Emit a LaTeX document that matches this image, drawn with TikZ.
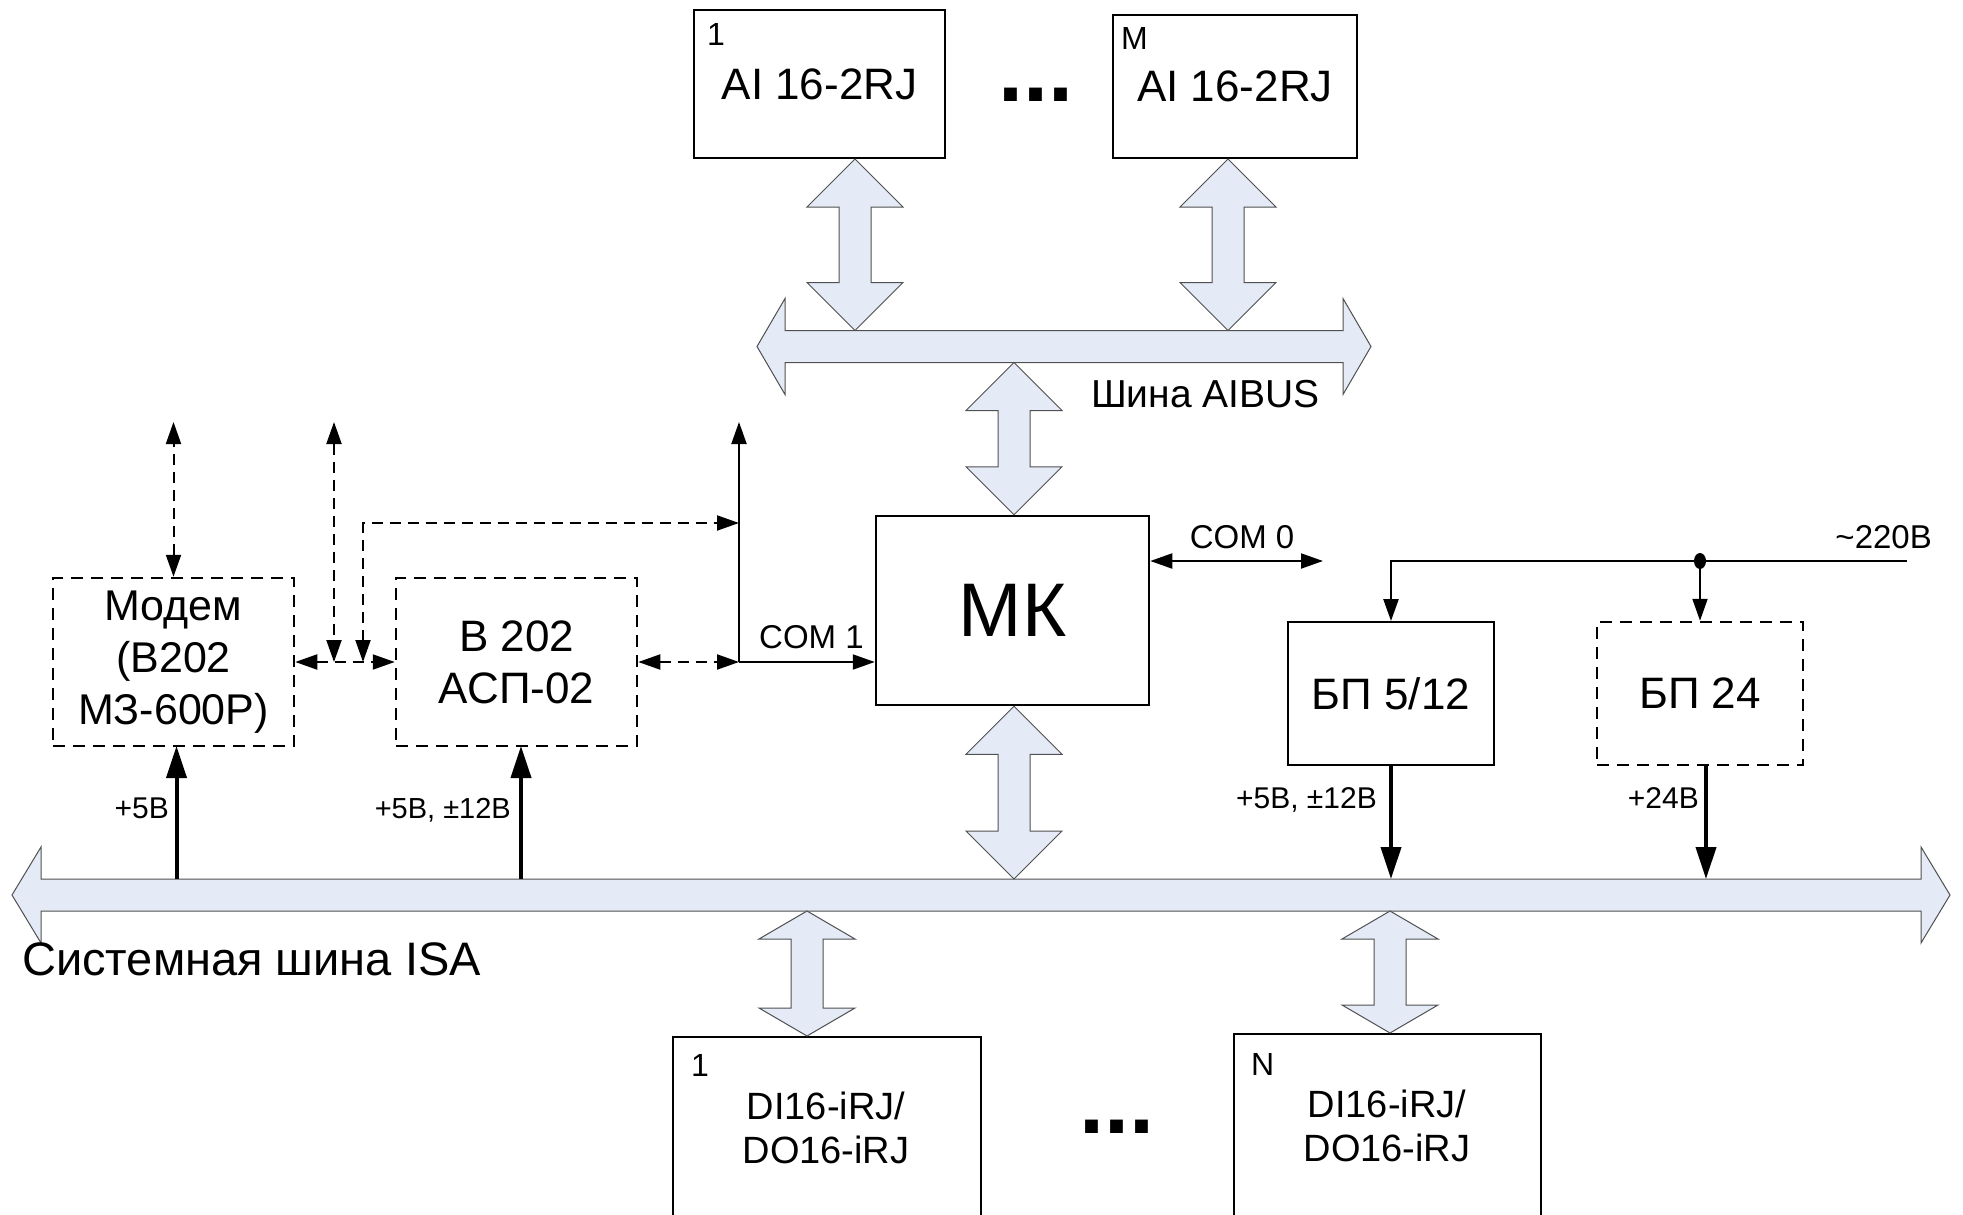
\documentclass[tikz,border=0pt]{standalone}
\usepackage{fontspec}
\setmainfont{Liberation Sans}
\usetikzlibrary{arrows.meta,calc}
\definecolor{busfill}{RGB}{228,235,247}
\definecolor{busline}{RGB}{80,80,80}
\newcommand\hbus[3]{%
 \filldraw[blockarrow] (#1.west) -- ($(#1.north west)+(#3,#2)$) -- ($(#1.north west)+(#3,0)$) -- ($(#1.north east)+(-#3,0)$) -- ($(#1.north east)+(-#3,#2)$) -- (#1.east) -- ($(#1.south east)+(-#3,-#2)$) -- ($(#1.south east)+(-#3,0)$) -- ($(#1.south west)+(#3,0)$) -- ($(#1.south west)+(#3,-#2)$) -- cycle;}
\newcommand\vblock[4]{%
 \filldraw[blockarrow] let \p1=(#2), \p2=(#3) in
 ({#1pt},\y1) -- ({#1pt+48pt},{\y1-#4pt}) -- ({#1pt+16pt},{\y1-#4pt}) -- ({#1pt+16pt},{\y2+#4pt}) -- ({#1pt+48pt},{\y2+#4pt}) -- ({#1pt},\y2) -- ({#1pt-48pt},{\y2+#4pt}) -- ({#1pt-16pt},{\y2+#4pt}) -- ({#1pt-16pt},{\y1-#4pt}) -- ({#1pt-48pt},{\y1-#4pt}) -- cycle;}
\begin{document}
\begin{tikzpicture}[x=1pt,y=1pt,
  sbox/.style={draw, line width=2pt, inner sep=0, font=\fontsize{44}{52}\selectfont, align=center},
  dbox/.style={sbox, dash pattern=on 12pt off 8pt, line width=2.5pt},
  blockarrow/.style={fill=busfill, draw=busline, line width=1pt, line join=miter},
  busnode/.style={inner sep=0, outer sep=0, minimum height=32},
  lbl/.style={inner sep=0, font=\fontsize{30}{36}\selectfont},
  coml/.style={inner sep=0, font=\fontsize{33}{40}\selectfont},
  num/.style={inner sep=0, font=\fontsize{32}{36}\selectfont, anchor=north west},
  dotsn/.style={inner sep=0, font=\fontsize{90}{90}\selectfont\bfseries},
  ditext/.style={inner sep=0, align=center, font=\fontsize{38}{44}\selectfont},
  sig/.style={line width=2pt, -{Triangle[length=22pt,width=15pt]}},
  sigd/.style={line width=2pt, {Triangle[length=22pt,width=15pt]}-{Triangle[length=22pt,width=15pt]}},
  dsig/.style={line width=2pt, dash pattern=on 11pt off 7pt, {Triangle[length=22pt,width=15pt]}-{Triangle[length=22pt,width=15pt]}},
  pwr/.style={line width=4pt, -{Triangle[length=32pt,width=20pt]}},
]
\useasboundingbox (0,0) rectangle (1963,-1215);
\clip (0,0) rectangle (1963,-1215);
\fill[white] (0,0) rectangle (1963,-1215);

% AI modules
\node[sbox, minimum width=251, minimum height=148] (ai1) at (819.5,-84) {AI 16-2RJ};
\node[num] (ai1n) at ($(ai1.north west)+(14,-14)$) {1};
\node[sbox, minimum width=244, minimum height=143] (aim) at (1235,-86.5) {AI 16-2RJ};
\node[num] (aimn) at ($(aim.north west)+(9,-13)$) {M};
\node[dotsn] (dots1) at (1036,-95) {...};

% AIBUS
\node[busnode, minimum width=614] (aibus) at (1064,-346.5) {};
\hbus{aibus}{32}{28}
\node[inner sep=0, anchor=base west, font=\fontsize{39}{46}\selectfont] (aibuslbl) at (1091,-407) {Шина AIBUS};
\vblock{855}{ai1.south}{aibus.north}{48}
\vblock{1228}{aim.south}{aibus.north}{48}

% MK
\node[sbox, line width=2.5pt, minimum width=273, minimum height=189, font=\fontsize{76}{84}\selectfont] (mk) at (1012.5,-610.5) {МК};
\vblock{1014}{aibus.south}{mk.north}{48}

% ISA bus
\node[busnode, minimum width=1938] (isa) at (981,-895) {};
\hbus{isa}{32}{29}
\node[inner sep=0, anchor=base west, font=\fontsize{47}{52}\selectfont] (isalbl) at (22,-975) {Системная шина ISA};
\vblock{1014}{mk.south}{isa.north}{48}

% DI/DO modules
\node[sbox, minimum width=308, minimum height=230, anchor=north west] (di1) at (672,-1036) {};
\node[ditext] (di1t) at (826,-1128) {DI16-iRJ/\\DO16-iRJ};
\node[num] (di1n) at ($(di1.north west)+(19,-18)$) {1};
\node[sbox, minimum width=307, minimum height=230, anchor=north west] (din) at (1233,-1033) {};
\node[ditext] (dint) at (1387,-1126) {DI16-iRJ/\\DO16-iRJ};
\node[num] (dinn) at ($(din.north west)+(18,-20)$) {N};
\node[dotsn] (dots2) at (1117,-1127) {...};
\vblock{807}{isa.south}{di1.north}{28}
\vblock{1390}{isa.south}{din.north}{28}

% Modem and B202
\node[dbox, minimum width=241, minimum height=168, font=\fontsize{43}{52}\selectfont] (modem) at (173.5,-662) {Модем\\(В202\\МЗ-600Р)};
\node[dbox, minimum width=241, minimum height=168] (b202) at (516.5,-662) {В 202\\АСП-02};

\coordinate (mup) at (173.5,-422);
\coordinate (v1t) at (334,-422);
\coordinate (v1b) at (334,-662);
\coordinate (v2b) at (363,-662);
\coordinate (jn) at (739,-662);
\coordinate (jtop) at (739,-422);
\coordinate (d2) at (739,-523);
\draw[dsig] (modem.north) -- (mup);
\draw[dsig] (v1t) -- (v1b);
\draw[dsig] (modem.east) -- (b202.west);
\draw[dsig] (v2b) |- (d2);
\draw[dsig] (b202.east) -- (jn);
\draw[sig] (jn) -- (jtop);
\draw[sig] (jn) -- (mk.west |- jn);
\node[coml, anchor=base west] (com1) at (759,-648) {COM 1};

% COM 0
\coordinate (com0end) at (1323,-561);
\draw[sigd] (mk.east |- com0end) -- (com0end);
\node[coml, anchor=base] (com0lbl) at (1242,-548) {COM 0};

% Power supplies
\node[sbox, minimum width=206, minimum height=143] (bp5) at (1391,-693.5) {БП 5/12};
\node[dbox, minimum width=206, minimum height=143] (bp24) at (1700,-693.5) {БП 24};
\coordinate (p220) at (1907,-561);
\coordinate (pdot) at (1700,-561);
\draw[sig, line width=2.5pt] (p220) -- (bp5.north |- p220) -- (bp5.north);
\draw[sig] (pdot) -- (bp24.north);
\fill (pdot) ellipse (6 and 8);
\node[coml, anchor=base east] (v220) at (1932,-548) {\textasciitilde 220В};

% Power arrows
\coordinate (mo) at (176.5,-746);
\coordinate (bo) at (521,-746);
\coordinate (b24o) at (1706,-765);
\draw[pwr] (mo |- isa.north) -- (mo);
\draw[pwr] (bo |- isa.north) -- (bo);
\draw[pwr] (bp5.south) -- (bp5.south |- isa.north);
\draw[pwr] (b24o) -- (b24o |- isa.north);
\node[lbl, anchor=base east] (l1) at (169,-818) {+5В};
\node[lbl, font=\fontsize{29}{34}\selectfont, anchor=base east] (l2) at (511,-818) {+5В, ±12В};
\node[lbl, anchor=base east] (l3) at (1377,-808) {+5В, ±12В};
\node[lbl, anchor=base east] (l4) at (1699,-808) {+24В};
\end{tikzpicture}
\end{document}
